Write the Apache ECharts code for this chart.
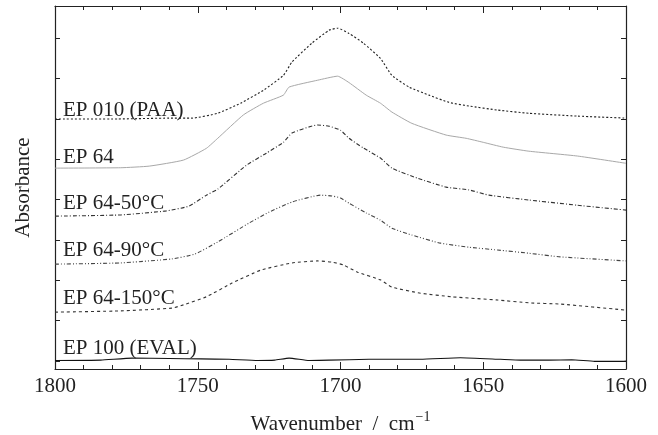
<!DOCTYPE html>
<html>
<head>
<meta charset="utf-8">
<script src="https://cdn.jsdelivr.net/npm/echarts@6/dist/echarts.min.js"></script>
<style>html,body{margin:0;padding:0;background:#fff}#c{width:658px;height:435px}</style>
</head>
<body>
<div id="c"></div>
<script>
// Tick labels / axis
const xTicks = [1800, 1750, 1700, 1650, 1600];
const yTicks = [0, 1, 2, 3, 4, 5, 6, 7, 8];

// Series names and label positions (label centre in absorbance units, offset spectra)
const names = ['EP 010 (PAA)', 'EP 64', 'EP 64-50°C', 'EP 64-90°C', 'EP 64-150°C', 'EP 100 (EVAL)'];
const labelY = [6.22, 5.05, 3.91, 2.75, 1.54, 0.32];

// EP 010 (PAA)
const wnPAA  = [1800, 1778, 1760, 1752, 1743, 1735, 1727, 1720, 1717, 1710, 1704, 1701, 1697, 1692, 1686, 1682, 1676, 1669, 1662, 1655, 1645, 1634, 1617, 1600];
const absPAA = [6.00, 6.00, 6.02, 6.02, 6.14, 6.39, 6.71, 7.08, 7.41, 7.88, 8.20, 8.25, 8.12, 7.88, 7.50, 7.08, 6.79, 6.59, 6.41, 6.32, 6.22, 6.14, 6.07, 6.02];

// EP 64
const wn64  = [1800, 1777, 1767, 1755, 1747, 1743, 1734, 1727, 1720, 1718, 1708, 1701, 1697, 1691, 1686, 1682, 1675, 1663, 1656, 1650, 1643, 1634, 1617, 1600];
const abs64 = [4.78, 4.79, 4.83, 4.98, 5.27, 5.52, 6.10, 6.39, 6.59, 6.79, 6.96, 7.06, 6.90, 6.59, 6.39, 6.17, 5.89, 5.60, 5.52, 5.42, 5.30, 5.20, 5.08, 4.90];

// EP 64-50°C
const wn50  = [1800, 1777, 1761, 1753, 1747, 1743, 1733, 1726, 1720, 1717, 1708, 1704, 1700, 1697, 1692, 1686, 1682, 1673, 1663, 1655, 1648, 1634, 1617, 1600];
const abs50 = [3.59, 3.62, 3.72, 3.84, 4.11, 4.26, 4.85, 5.15, 5.42, 5.65, 5.85, 5.82, 5.72, 5.52, 5.28, 5.03, 4.78, 4.53, 4.31, 4.24, 4.11, 3.99, 3.86, 3.74];

// EP 64-90°C
const wn90  = [1800, 1777, 1759, 1751, 1743, 1732, 1725, 1717, 1707, 1703, 1700, 1697, 1691, 1686, 1682, 1675, 1665, 1655, 1645, 1634, 1623, 1600];
const abs90 = [2.40, 2.43, 2.53, 2.65, 2.95, 3.42, 3.69, 3.94, 4.11, 4.09, 4.04, 3.91, 3.67, 3.49, 3.29, 3.12, 2.92, 2.82, 2.75, 2.67, 2.58, 2.48];

// EP 64-150°C
const wn150  = [1800, 1777, 1759, 1755, 1747, 1738, 1728, 1717, 1708, 1703, 1699, 1694, 1686, 1682, 1672, 1661, 1645, 1634, 1623, 1600];
const abs150 = [1.21, 1.24, 1.31, 1.39, 1.59, 1.93, 2.25, 2.43, 2.48, 2.45, 2.38, 2.20, 2.01, 1.83, 1.68, 1.59, 1.51, 1.44, 1.41, 1.26];

// EP 100 (EVAL)
const wnEVAL  = [1800, 1784, 1773, 1760, 1749, 1739, 1729, 1723, 1718, 1711, 1704, 1690, 1672, 1658, 1644, 1637, 1627, 1619, 1611, 1602, 1600];
const absEVAL = [0.01, 0.02, 0.07, 0.06, 0.05, 0.04, 0.01, 0.02, 0.07, 0.01, 0.02, 0.04, 0.04, 0.08, 0.04, 0.02, 0.02, 0.03, -0.01, -0.01, 0.00];

const wnSets  = [wnPAA, wn64, wn50, wn90, wn150, wnEVAL];
const absSets = [absPAA, abs64, abs50, abs90, abs150, absEVAL];

const styles = [
  { color: '#222', type: [2, 2], width: 1.1 },
  { color: '#a8a8a8', type: 'solid', width: 1 },
  { color: '#333', type: [4, 2, 1, 2], width: 1.1 },
  { color: '#444', type: [4, 2, 1, 2, 1, 2], width: 1.1 },
  { color: '#333', type: [3, 3], width: 1.1 },
  { color: '#111', type: 'solid', width: 1.1 }
];

const FONT = '"Liberation Serif", "DejaVu Serif", serif';

const series = names.map((n, i) => ({
  name: n,
  type: 'line',
  showSymbol: false,
  smooth: 0.15,
  data: wnSets[i].map((w, k) => [w, absSets[i][k]]),
  lineStyle: styles[i],
  markPoint: {
    symbol: 'circle',
    symbolSize: 0,
    silent: true,
    data: [{ coord: [1797.2, labelY[i]], name: n }],
    label: {
      show: true, position: 'right', distance: 0,
      formatter: n, color: '#222', fontFamily: FONT, fontSize: 21
    }
  }
}));

const axisCommonX = {
  type: 'value', min: 1600, max: 1800, inverse: true, interval: 50,
  axisLine: { show: true, onZero: false, lineStyle: { color: '#222', width: 1.2 } },
  axisTick: { show: true, inside: true, length: 7, lineStyle: { color: '#222' } },
  minorTick: { show: true, splitNumber: 5, length: 4, lineStyle: { color: '#222' } },
  splitLine: { show: false }, minorSplitLine: { show: false }
};

const axisCommonY = {
  type: 'value', min: -0.2, max: 8.8,
  axisLine: { show: true, onZero: false, lineStyle: { color: '#222', width: 1.2 } },
  axisTick: { show: true, inside: true, length: 5, customValues: yTicks, lineStyle: { color: '#222' } },
  axisLabel: { show: false },
  splitLine: { show: false }
};

const option = {
  animation: false,
  backgroundColor: '#fff',
  grid: { left: 55, right: 32, top: 6, bottom: 66, containLabel: false, outerBoundsMode: 'none' },
  xAxis: [
    Object.assign({}, axisCommonX, {
      position: 'bottom',
      axisLabel: {
        show: true, customValues: xTicks, margin: 7, color: '#222', fontFamily: FONT, fontSize: 21,
        formatter: v => String(v)
      },
      name: '{a|Wavenumber  /  cm}{s|−1}',
      nameLocation: 'middle', nameGap: 41,
      nameTextStyle: {
        rich: {
          a: { fontFamily: FONT, fontSize: 21, color: '#222' },
          s: { fontFamily: FONT, fontSize: 14, color: '#222', verticalAlign: 'top', padding: [0, 0, 14, 1] }
        }
      }
    }),
    Object.assign({}, axisCommonX, { position: 'top', axisLabel: { show: false } })
  ],
  yAxis: [
    Object.assign({}, axisCommonY, {
      position: 'left',
      name: 'Absorbance', nameLocation: 'middle', nameGap: 21,
      nameTextStyle: { fontFamily: FONT, fontSize: 21, color: '#222' }
    }),
    Object.assign({}, axisCommonY, { position: 'right' })
  ],
  series: series
};

const chart = echarts.init(document.getElementById('c'), null, { renderer: 'canvas' });
chart.setOption(option);
</script>
</body>
</html>
